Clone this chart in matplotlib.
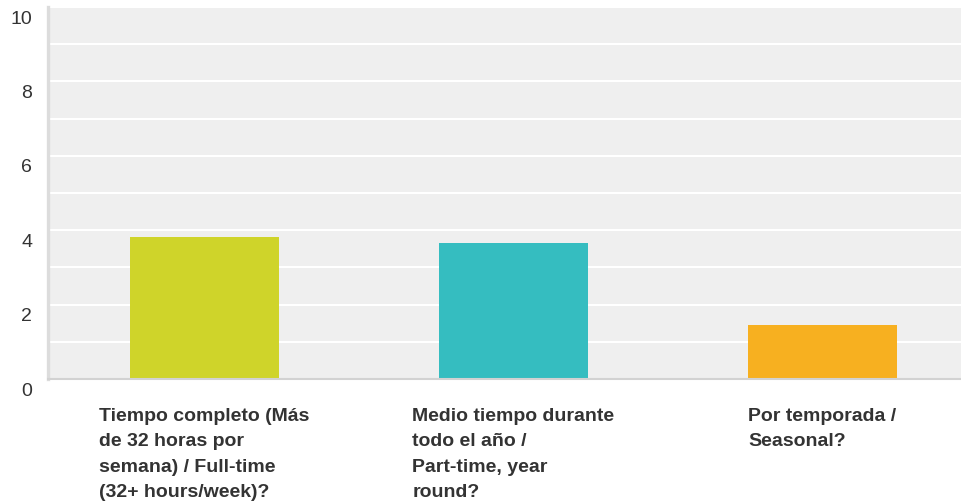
import matplotlib
matplotlib.use("Agg")
import matplotlib.pyplot as plt
import matplotlib.transforms as mtransforms

categories = [
    "Tiempo completo (Más\nde 32 horas por\nsemana) / Full-time\n(32+ hours/week)?",
    "Medio tiempo durante\ntodo el año /\nPart-time, year\nround?",
    "Por temporada /\nSeasonal?",
]
values = [3.83, 3.66, 1.45]
colors = ["#cfd42a", "#35bdc0", "#f7b020"]
yticks = [0, 2, 4, 6, 8, 10]

W, H = 961, 503
fig = plt.figure(figsize=(W / 100, H / 100), dpi=100)
left_px, right_px, bottom_px, top_px = 48, 961, 379, 7
ax = fig.add_axes([left_px / W, (H - bottom_px) / H,
                   (right_px - left_px) / W, (bottom_px - top_px) / H])
ax.set_facecolor("#efefef")

x = list(range(len(values)))
ax.bar(x, values, width=0.482, color=colors, zorder=3)

unit = 309.0
xl = -(204.5 - left_px) / unit
ax.set_xlim(xl, xl + (right_px - left_px) / unit)
ax.set_ylim(0, 10)

ax.set_yticks(yticks)
ax.set_yticks(range(0, 11), minor=True)
ax.set_yticklabels([str(v) for v in yticks], fontsize=14, color="#333333",
                   family="Liberation Sans")
ax.tick_params(axis="y", which="both", length=0, pad=11.5)
offset = mtransforms.ScaledTranslation(0, -10 / 100, fig.dpi_scale_trans)
for lab in ax.get_yticklabels():
    lab.set_transform(lab.get_transform() + offset)
ax.set_xticks([])

ax.grid(axis="y", which="both", color="white", linewidth=1.5, zorder=1)
ax.set_axisbelow(True)

for s in ["top", "right"]:
    ax.spines[s].set_visible(False)
ax.spines["left"].set_color("#dcdcdc")
ax.spines["left"].set_linewidth(2.4)
ax.spines["bottom"].set_color("#d2d2d2")
ax.spines["bottom"].set_linewidth(1.5)
ax.spines["bottom"].set_zorder(4)

trans = ax.get_xaxis_transform()
for i, lab in enumerate(categories):
    ax.text(i, -0.078, lab, transform=trans, ha="center", va="top",
            multialignment="left", fontsize=14, fontweight="bold",
            color="#333333", family="Liberation Sans", linespacing=1.64)

fig.savefig("out.png", dpi=100)
